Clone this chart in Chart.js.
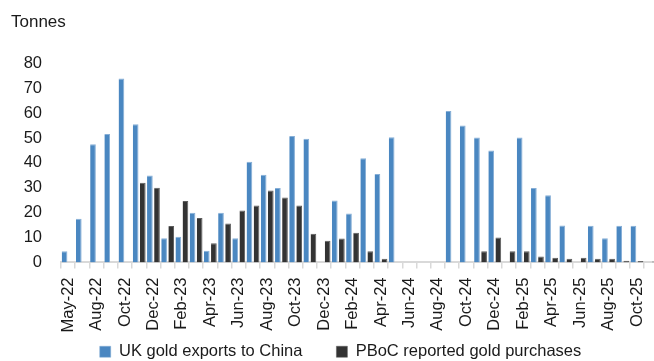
<!DOCTYPE html>
<html>
<head>
<meta charset="utf-8">
<script src="https://cdn.jsdelivr.net/npm/chart.js@4.4.1/dist/chart.umd.min.js"></script>
<style>
  html, body { margin: 0; padding: 0; background: #ffffff; }
  #wrap { width: 654px; height: 361px; overflow: hidden; position: relative; }
  canvas { display: block; }
</style>
</head>
<body>
<div id="wrap"><canvas id="goldChart" width="680" height="402"></canvas></div>
<script>
// Monthly categories (no June 2022 observation in the series)
const categories = [
  'May-22', 'Jul-22', 'Aug-22', 'Sep-22', 'Oct-22', 'Nov-22', 'Dec-22',
  'Jan-23', 'Feb-23', 'Mar-23', 'Apr-23', 'May-23', 'Jun-23', 'Jul-23',
  'Aug-23', 'Sep-23', 'Oct-23', 'Nov-23', 'Dec-23', 'Jan-24', 'Feb-24',
  'Mar-24', 'Apr-24', 'May-24', 'Jun-24', 'Jul-24', 'Aug-24', 'Sep-24',
  'Oct-24', 'Nov-24', 'Dec-24', 'Jan-25', 'Feb-25', 'Mar-25', 'Apr-25',
  'May-25', 'Jun-25', 'Jul-25', 'Aug-25', 'Sep-25', 'Oct-25', 'Nov-25'
];

// UK gold exports to China, tonnes
const ukGoldExports = [
  4.5, 17.6, 47.5, 51.6, 73.9, 55.5, 35.0,
  9.7, 10.3, 20.0, 4.7, 20.0, 9.7, 40.5,
  35.3, 29.9, 50.8, 49.7, null, 24.9, 19.7,
  41.9, 35.6, 50.3, null, null, null, 60.9,
  55.0, 50.2, 45.0, null, 50.2, 29.9, 27.0,
  14.9, null, 14.8, 9.7, 14.8, 14.8, null
];

// PBoC reported gold purchases, tonnes
const pbocPurchases = [
  null, null, null, null, null, 32.0, 30.0,
  14.7, 24.7, 17.9, 7.7, 15.7, 20.9, 22.9,
  28.9, 26.1, 22.9, 11.5, 8.7, 9.6, 11.9,
  4.5, 1.5, null, null, null, null, null,
  null, 4.5, 10.0, 4.5, 4.5, 2.4, 1.9,
  1.5, 1.9, 1.5, 1.5, 0.7, 0.6, 0.4
];

const seriesNames = ['UK gold exports to China', 'PBoC reported gold purchases'];
const yAxisMin = 0;
const yAxisMax = 80;
const yAxisStep = 10;
const unitLabel = 'Tonnes';

const FONT_FAMILY = "'Liberation Sans', Arial, sans-serif";
const TEXT_COLOR = '#1a1a1a';
const AXIS_GREY = '#d9d9d9';

Chart.defaults.font.family = FONT_FAMILY;
Chart.defaults.font.size = 16.5;
Chart.defaults.color = TEXT_COLOR;

// Moves the legend row after layout so it sits just under the month labels
const legendNudge = {
  id: 'legendNudge',
  afterLayout(chart) {
    const lg = chart.legend;
    if (!lg) return;
    const dx = -5, dy = -32;
    lg.left += dx; lg.right += dx;
    lg.top += dy; lg.bottom += dy;
  }
};

new Chart(document.getElementById('goldChart'), {
  type: 'bar',
  data: {
    labels: categories,
    datasets: [
      {
        label: seriesNames[0],
        data: ukGoldExports,
        backgroundColor: '#4a87c1',
        borderColor: '#86aed6',
        borderWidth: { top: 1, left: 0, right: 1, bottom: 0 },
        borderSkipped: false,
        categoryPercentage: 1.0,
        barPercentage: 0.8
      },
      {
        label: seriesNames[1],
        data: pbocPurchases,
        backgroundColor: '#333333',
        borderColor: '#5c5c5c',
        borderWidth: { top: 1, left: 0, right: 1, bottom: 0 },
        borderSkipped: false,
        categoryPercentage: 1.0,
        barPercentage: 0.8
      }
    ]
  },
  options: {
    responsive: false,
    animation: false,
    devicePixelRatio: 1,
    layout: { padding: { left: 11, right: 0, top: 0, bottom: 0 } },
    scales: {
      x: {
        offset: true,
        grid: {
          display: true,
          offset: true,
          drawOnChartArea: false,
          drawTicks: true,
          tickLength: 6,
          color: AXIS_GREY,
          lineWidth: 1.5
        },
        border: { display: true, color: AXIS_GREY, width: 2 },
        ticks: {
          autoSkip: false,
          minRotation: 90,
          maxRotation: 90,
          padding: 9,
          color: TEXT_COLOR,
          font: { size: 16.5 },
          callback(value, index) {
            return index % 2 === 0 ? categories[index] : '';
          }
        }
      },
      y: {
        min: yAxisMin,
        max: yAxisMax,
        grid: { display: false, drawTicks: false },
        border: { display: false },
        ticks: {
          stepSize: yAxisStep,
          padding: 19,
          color: TEXT_COLOR,
          font: { size: 16.5 }
        },
        afterFit(scale) { scale.width = 50; }
      }
    },
    plugins: {
      title: {
        display: true,
        text: unitLabel,
        align: 'start',
        color: TEXT_COLOR,
        font: { size: 17, weight: 'normal' },
        padding: { top: 12, bottom: 31 }
      },
      legend: {
        display: true,
        position: 'bottom',
        align: 'center',
        labels: {
          boxWidth: 11,
          boxHeight: 11,
          padding: 34,
          color: TEXT_COLOR,
          font: { size: 16.5 }
        }
      },
      tooltip: { enabled: false }
    }
  },
  plugins: [legendNudge]
});
</script>
</body>
</html>
